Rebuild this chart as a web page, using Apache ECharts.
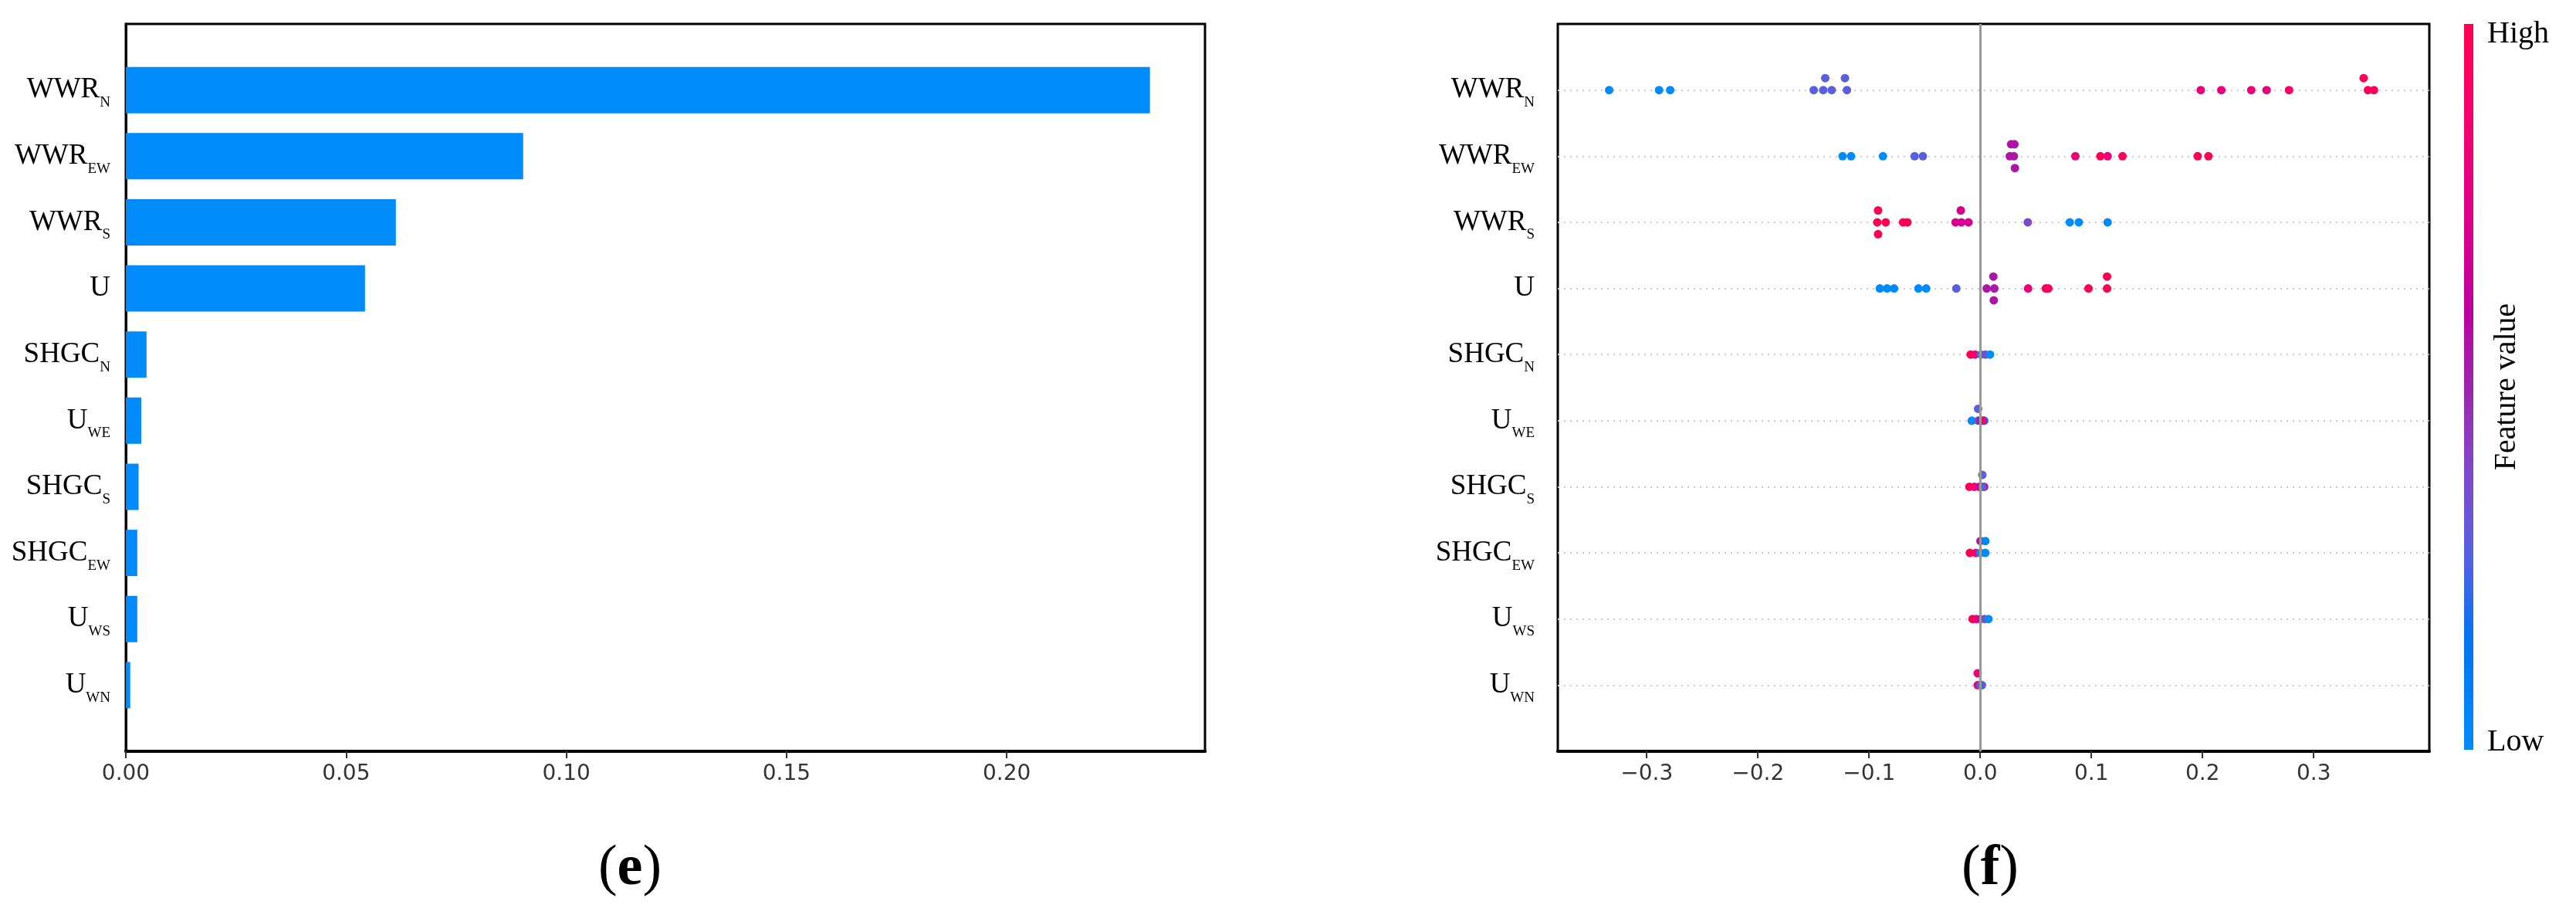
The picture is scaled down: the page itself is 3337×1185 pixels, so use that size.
<!DOCTYPE html>
<html>
<head>
<meta charset="utf-8">
<script src="https://cdn.jsdelivr.net/npm/echarts@6/dist/echarts.min.js"></script>
<style>
    html, body { margin: 0; padding: 0; background: #fff; }
    #chart { width: 3337px; height: 1185px; }
</style>
</head>
<body>
<div id="chart"></div>
<script>
    // feature names, top to bottom, split into main text and subscript
    var labelMain = ['WWR', 'WWR', 'WWR', 'U', 'SHGC', 'U', 'SHGC', 'SHGC', 'U', 'U']
    var labelSub = ['N', 'EW', 'S', '', 'N', 'WE', 'S', 'EW', 'WS', 'WN']

    // (e) mean |SHAP| per feature
    var importance = [0.2325, 0.0902, 0.0613, 0.0543, 0.0047, 0.0035, 0.0029, 0.0026, 0.0026, 0.0010]
    var ticksLeft = [0, 0.05, 0.10, 0.15, 0.20]

    // (f) SHAP values and normalised feature values (0 = low, 1 = high), one pair per feature
    var shapWWRN = [-0.3338, -0.2889, -0.2789, -0.1498, -0.1412, -0.1394, -0.1336, -0.1199, -0.1217, 0.1984, 0.2169, 0.2438, 0.2576, 0.2778, 0.3488, 0.3449, 0.3542]
    var featWWRN = [0, 0, 0, 0.28, 0.28, 0.28, 0.28, 0.28, 0.28, 0.8, 0.8, 0.82, 0.8, 0.9, 0.97, 0.97, 0.97]
    var shapWWREW = [-0.1238, -0.1162, -0.0875, -0.0590, -0.0516, 0.0266, 0.0278, 0.0303, 0.0308, 0.0312, 0.0856, 0.1081, 0.1146, 0.1280, 0.1956, 0.2053]
    var featWWREW = [0, 0, 0, 0.28, 0.28, 0.55, 0.55, 0.55, 0.55, 0.55, 0.82, 1, 0.82, 0.95, 1, 1]
    var shapWWRS = [-0.0926, -0.0919, -0.0919, -0.0850, -0.0694, -0.0655, -0.0222, -0.0170, -0.0175, -0.0106, 0.0428, 0.0806, 0.0887, 0.1146]
    var featWWRS = [1, 1, 1, 1, 1, 1, 0.7, 0.7, 0.7, 0.7, 0.38, 0, 0, 0]
    var shapU = [-0.0903, -0.0838, -0.0775, -0.0556, -0.0486, -0.0215, 0.0058, 0.0127, 0.0118, 0.0122, 0.0431, 0.0590, 0.0613, 0.0974, 0.1141, 0.1141]
    var featU = [0, 0, 0, 0, 0, 0.28, 0.55, 0.55, 0.55, 0.55, 0.82, 0.95, 0.95, 1, 1, 1]
    var shapSHGCN = [-0.0086, -0.0046, 0.0007, 0.0046, 0.0088]
    var featSHGCN = [1, 0.85, 0, 0.35, 0]
    var shapUWE = [-0.0076, -0.0019, -0.0019, 0.0037, 0.0000, 0.0023]
    var featUWE = [0, 0.28, 0.28, 0.05, 0.5, 0.85]
    var shapSHGCS = [-0.0097, -0.0053, -0.0009, 0.0035, 0.0019, 0.0019]
    var featSHGCS = [1, 0.9, 0.7, 0.75, 0.28, 0.28]
    var shapSHGCEW = [-0.0093, -0.0039, 0.0002, 0.0002, 0.0046, 0.0046]
    var featSHGCEW = [1, 0.85, 0, 0.55, 0, 0.05]
    var shapUWS = [-0.0069, -0.0035, 0.0000, 0.0039, 0.0074]
    var featUWS = [1, 0.85, 0.7, 0.38, 0]
    var shapUWN = [-0.0023, -0.0023, 0.0005, 0.0016]
    var featUWN = [0.85, 0.85, 0, 0.28]
    var ticksRight = [-0.3, -0.2, -0.1, 0, 0.1, 0.2, 0.3]

    var shapRows = [shapWWRN, shapWWREW, shapWWRS, shapU, shapSHGCN, shapUWE, shapSHGCS, shapSHGCEW, shapUWS, shapUWN]
    var featRows = [featWWRN, featWWREW, featWWRS, featU, featSHGCN, featUWE, featSHGCS, featSHGCEW, featUWS, featUWN]
    var nRows = labelMain.length

    // shap red_blue colormap (LCH blend, lightness dips in the middle)
    function lch2hex(L, C, h) {
        var a = C * Math.cos(h), b = C * Math.sin(h)
        var fy = (L + 16) / 116, fx = fy + a / 500, fz = fy - b / 200
        var f = function (t) { return t > 0.2069 ? t * t * t : (t - 16 / 116) / 7.787 }
        var X = 0.95047 * f(fx), Y = f(fy), Z = 1.08883 * f(fz)
        var rgb = [
            3.2406 * X - 1.5372 * Y - 0.4986 * Z,
            -0.9689 * X + 1.8758 * Y + 0.0415 * Z,
            0.0557 * X - 0.2040 * Y + 1.0570 * Z
        ]
        return '#' + rgb.map(function (c) {
            c = c <= 0.0031308 ? 12.92 * c : 1.055 * Math.pow(c, 1 / 2.4) - 0.055
            c = Math.round(Math.min(1, Math.max(0, c)) * 255)
            return (c < 16 ? '0' : '') + c.toString(16)
        }).join('')
    }
    var cmap = []
    for (var k = 0; k <= 20; k++) {
        var t = k / 20
        var L = t < 0.5 ? 54 + (40 - 54) * t * 2 : 40 + (54 - 40) * (t - 0.5) * 2
        cmap.push(lch2hex(L, 70 + 20 * t, 4.6588 + (0.35470565 + 2 * Math.PI - 4.6588) * t))
    }

    // beeswarm stacking the way shap does it: bin into 100 steps, stack up / down
    function swarm(vals) {
        var lo = Math.min.apply(null, vals), hi = Math.max.apply(null, vals)
        var quant = vals.map(function (v) { return Math.round(100 * (v - lo) / (hi - lo + 1e-8)) })
        var order = vals.map(function (v, i) { return i }).sort(function (a, b) { return quant[a] - quant[b] || a - b })
        var ys = vals.map(function () { return 0 })
        var layer = 0, last = -1
        order.forEach(function (i) {
            if (quant[i] !== last) layer = 0
            ys[i] = Math.ceil(layer / 2) * ((layer % 2) * 2 - 1)
            layer++
            last = quant[i]
        })
        var m = Math.max.apply(null, ys.map(function (y) { return y + 1 }))
        return ys.map(function (y) { return y * 0.9 * 0.4 / m })
    }

    var dots = []
    shapRows.forEach(function (vals, r) {
        var off = swarm(vals)
        vals.forEach(function (v, i) {
            dots.push([v, nRows - 1 - r + off[i], featRows[r][i]])
        })
    })

    function richLabel(r) {
        if (r < 0 || r >= nRows) return ''
        return '{m|' + labelMain[r] + '}' + (labelSub[r] ? '{s|' + labelSub[r] + '}' : '')
    }
    var labelRich = {
        m: { fontFamily: 'Liberation Serif', fontSize: 37, color: '#000', lineHeight: 52 },
        s: { fontFamily: 'Liberation Serif', fontSize: 19, color: '#000', lineHeight: 20, verticalAlign: 'bottom' }
    }
    var tickFont = { fontFamily: 'DejaVu Sans', fontSize: 28, color: '#333' }

    var stops = cmap.map(function (c, i) { return { offset: i / (cmap.length - 1), color: c } })

    var myChart = echarts.init(document.getElementById('chart'))
    var option = {
        backgroundColor: '#fff',
        animation: false,
        grid: [
            { left: 163, top: 31, width: 1398, height: 942, show: true, borderColor: '#000', borderWidth: 3 },
            { left: 2018, top: 31, width: 1129, height: 942, show: true, borderColor: '#000', borderWidth: 3 }
        ],
        xAxis: [
            {
                type: 'value', gridIndex: 0, min: 0, max: 0.245,
                axisLine: { show: true, onZero: false, lineStyle: { color: '#000', width: 4 } },
                axisTick: { show: true, length: 9, customValues: ticksLeft, lineStyle: { color: '#333', width: 2 } },
                axisLabel: Object.assign({ customValues: ticksLeft, margin: 16, formatter: function (v) { return v.toFixed(2) } }, tickFont),
                splitLine: { show: false }
            },
            {
                type: 'value', gridIndex: 1, min: -0.38, max: 0.404,
                axisLine: { show: true, onZero: false, lineStyle: { color: '#000', width: 4 } },
                axisTick: { show: true, length: 9, customValues: ticksRight, lineStyle: { color: '#333', width: 2 } },
                axisLabel: Object.assign({
                    customValues: ticksRight, margin: 16,
                    formatter: function (v) { return (v < -1e-9 ? '\u2212' : '') + Math.abs(v).toFixed(1) }
                }, tickFont),
                splitLine: { show: false }
            }
        ],
        yAxis: [
            {
                // empty categories at both ends give the one-row padding of the original
                type: 'category', gridIndex: 0, inverse: true, boundaryGap: false,
                data: [-1].concat(labelMain.map(function (d, i) { return i }), [nRows]),
                axisLine: { show: true, lineStyle: { color: '#000', width: 3 } },
                axisTick: { show: false },
                axisLabel: { interval: 0, margin: 20, formatter: function (v) { return richLabel(+v) }, rich: labelRich }
            },
            {
                type: 'value', gridIndex: 1, min: -1, max: nRows, interval: 1,
                axisLine: { show: true, lineStyle: { color: '#000', width: 3 } },
                axisTick: { show: false },
                axisLabel: { margin: 30, formatter: function (v) { return richLabel(nRows - 1 - v) }, rich: labelRich },
                splitLine: {
                    show: true, showMinLine: false, showMaxLine: false,
                    lineStyle: { color: '#cccccc', width: 2, type: [2, 6] }
                }
            }
        ],
        visualMap: {
            type: 'continuous', show: false, seriesIndex: 2, dimension: 2,
            min: 0, max: 1, inRange: { color: cmap }
        },
        series: [
            {
                type: 'bar', xAxisIndex: 0, yAxisIndex: 0, barWidth: 60,
                itemStyle: { color: '#008bfb' },
                data: [null].concat(importance, [null])
            },
            {
                // zero line behind the dots
                type: 'scatter', xAxisIndex: 1, yAxisIndex: 1, z: 1, data: [],
                markLine: {
                    silent: true, symbol: 'none', label: { show: false },
                    lineStyle: { color: '#999', width: 3, type: 'solid' },
                    data: [{ xAxis: 0 }]
                }
            },
            {
                type: 'scatter', xAxisIndex: 1, yAxisIndex: 1, z: 3,
                symbolSize: 11,
                itemStyle: { opacity: 1 },
                data: dots
            }
        ],
        graphic: [
            {
                type: 'rect', shape: { x: 3192, y: 31, width: 12, height: 940 },
                style: { fill: new echarts.graphic.LinearGradient(0, 1, 0, 0, stops) }
            },
            { type: 'text', x: 3222, y: 24, style: { text: 'High', font: '40px "Liberation Serif"', fill: '#000', verticalAlign: 'top' } },
            { type: 'text', x: 3222, y: 981, style: { text: 'Low', font: '40px "Liberation Serif"', fill: '#000', verticalAlign: 'bottom' } },
            {
                type: 'text', x: 3247, y: 501, rotation: Math.PI / 2,
                style: { text: 'Feature value', font: '40px "Liberation Serif"', fill: '#000', align: 'center', verticalAlign: 'middle' }
            },
            {
                type: 'text', x: 816, y: 1126,
                style: {
                    text: '{p|(}{b|e}{p|)}', align: 'center', verticalAlign: 'middle',
                    rich: { p: { fontFamily: 'Liberation Serif', fontSize: 74, color: '#000' }, b: { fontFamily: 'Liberation Serif', fontSize: 74, fontWeight: 'bold', color: '#000' } }
                }
            },
            {
                type: 'text', x: 2578, y: 1126,
                style: {
                    text: '{p|(}{b|f}{p|)}', align: 'center', verticalAlign: 'middle',
                    rich: { p: { fontFamily: 'Liberation Serif', fontSize: 74, color: '#000' }, b: { fontFamily: 'Liberation Serif', fontSize: 74, fontWeight: 'bold', color: '#000' } }
                }
            }
        ]
    }
    myChart.setOption(option)
</script>
</body>
</html>
